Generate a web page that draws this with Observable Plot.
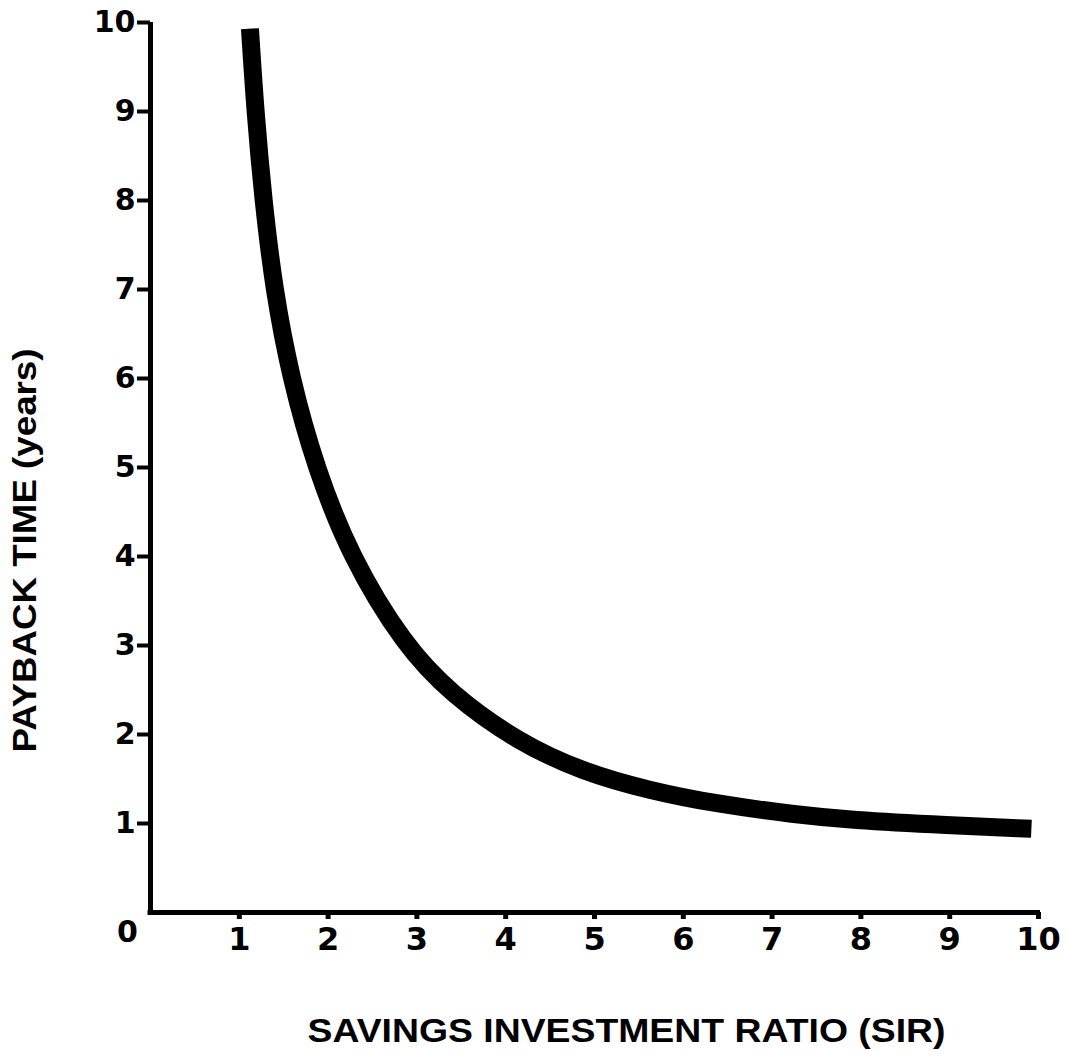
<!DOCTYPE html>
<html>
<head>
<meta charset="utf-8">
<script src="https://cdn.jsdelivr.net/npm/d3@7"></script>
<script src="https://cdn.jsdelivr.net/npm/@observablehq/plot@0.6"></script>
<style>
  html, body { margin: 0; padding: 0; background: #fff; }
  #chart svg { display: block; }
</style>
</head>
<body>
<div id="chart"></div>
<script>
// Data
const sir   = [1.12, 1.18, 1.27, 1.39, 1.58, 1.86, 2.25, 2.86, 3.38, 4.13, 4.87, 5.62, 6.37, 7.27, 7.87, 8.99, 9.92];
const years = [9.93, 9.00, 8.00, 7.00, 6.00, 5.00, 4.00, 3.00, 2.46, 1.92, 1.58, 1.37, 1.22, 1.10, 1.04, 0.98, 0.94];
const xTicks = [1, 2, 3, 4, 5, 6, 7, 8, 9, 10];
const yTicks = [1, 2, 3, 4, 5, 6, 7, 8, 9, 10];
const xTitle = "SAVINGS INVESTMENT RATIO (SIR)";
const yTitle = "PAYBACK TIME (years)";
const originLabel = "0";

const curve = sir.map((s, i) => ({sir: s, years: years[i]}));

const tickFont = "DejaVu Sans, sans-serif";
const titleFont = "Liberation Sans, Arial, sans-serif";

const svg = Plot.plot({
  width: 1068,
  height: 1057,
  marginLeft: 150,
  marginRight: 30,
  marginTop: 22,
  marginBottom: 145,
  style: {background: "#fff", color: "#000"},
  x: {domain: [0, 10]},
  y: {domain: [0, 10]},
  marks: [
    Plot.line(curve, {x: "sir", y: "years", stroke: "#000", strokeWidth: 18,
      strokeLinecap: "butt", strokeLinejoin: "round", curve: "basis"}),
    Plot.ruleX([0], {stroke: "#000", strokeWidth: 5, insetBottom: -2.5}),
    Plot.ruleY([0], {stroke: "#000", strokeWidth: 5, insetLeft: -2.5, insetRight: -2}),
    Plot.axisY({ticks: yTicks, tickSize: 13, tickPadding: 2, strokeWidth: 4,
      fontSize: 30, fontWeight: "bold", fontFamily: tickFont, label: null, tickFormat: d => String(d)}),
    Plot.axisX({ticks: xTicks, tickSize: 7, tickPadding: 8, strokeWidth: 5,
      fontSize: 32, fontWeight: "bold", fontFamily: tickFont, label: null, tickFormat: d => String(d)}),
    Plot.text([originLabel], {x: 0, y: 0, text: d => d, dx: -23, dy: 20,
      fontSize: 30, fontWeight: "bold", fontFamily: tickFont, textAnchor: "middle", lineAnchor: "middle"}),
    Plot.text([xTitle], {frameAnchor: "bottom", text: d => d, dx: 32, dy: 119,
      fontSize: 34, fontWeight: "bold", fontFamily: titleFont, textAnchor: "middle", lineAnchor: "middle"}),
    Plot.text([yTitle], {frameAnchor: "left", text: d => d, dx: -125, dy: 83, rotate: -90,
      fontSize: 33, fontWeight: "bold", fontFamily: titleFont, textAnchor: "middle", lineAnchor: "middle"})
  ]
});

const sel = d3.select(svg);
sel.selectAll("text").filter(function () { return this.textContent === xTitle; })
  .attr("textLength", 638).attr("lengthAdjust", "spacingAndGlyphs");
sel.selectAll("text").filter(function () { return this.textContent === yTitle; })
  .attr("textLength", 404).attr("lengthAdjust", "spacingAndGlyphs");

document.getElementById("chart").appendChild(svg);
</script>
</body>
</html>
